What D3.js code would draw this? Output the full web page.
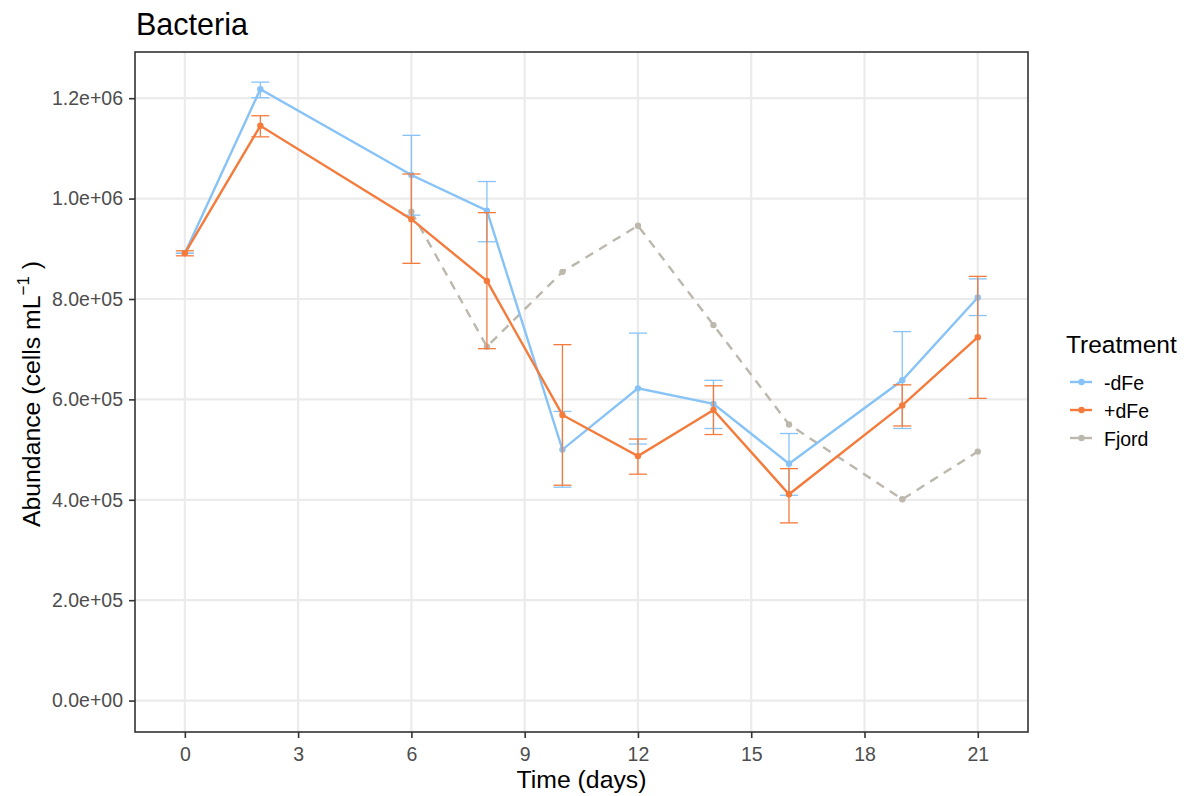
<!DOCTYPE html>
<html>
<head>
<meta charset="utf-8">
<script src="https://cdn.jsdelivr.net/npm/d3@7"></script>
<style>
  body { margin: 0; background: #fff; }
  svg { font-family: "Liberation Sans", Arial, sans-serif; }
</style>
</head>
<body>
<svg id="chart" width="1188" height="796"></svg>
<script>
// data
const days = [0, 2, 6, 8, 10, 12, 14, 16, 19, 21];
const fjordDays = [6, 8, 10, 12, 14, 16, 19, 21];

const minusMean = [891000, 1218000, 1047000, 976000, 500000, 622000, 591000, 472000, 638000, 803000];
const minusLo   = [891000, 1201000, 967000, 914000, 425000, 511000, 542000, 409000, 542000, 767000];
const minusHi   = [891000, 1232000, 1126000, 1034000, 576000, 732000, 638000, 532000, 735000, 840000];

const plusMean = [891000, 1145000, 959000, 836000, 569000, 487000, 579000, 411000, 588000, 724000];
const plusLo   = [886000, 1123000, 871000, 701000, 429000, 451000, 530000, 354000, 547000, 602000];
const plusHi   = [896000, 1165000, 1049000, 972000, 709000, 521000, 627000, 462000, 629000, 845000];

const fjordMean = [974000, 705000, 854000, 946000, 748000, 550000, 401000, 496000];

const xTicks = [0, 3, 6, 9, 12, 15, 18, 21];
const yTicks = [0, 200000, 400000, 600000, 800000, 1000000, 1200000];

const treatments = ["-dFe", "+dFe", "Fjord"];
const colors = ["#87c3f7", "#f47b3b", "#bdb8ad"];

const svg = d3.select("#chart");

// panel box
const pLeft = 135, pRight = 1028, pTop = 52, pBottom = 732;

const x = d3.scaleLinear().domain([-1.32, 22.33]).range([pLeft, pRight]);
const y = d3.scaleLinear().domain([-62600, 1292000]).range([pBottom, pTop]);

// grid
const grid = svg.append("g");
grid.selectAll(".gx").data(xTicks).join("line")
    .attr("x1", d => x(d)).attr("x2", d => x(d))
    .attr("y1", pTop).attr("y2", pBottom)
    .attr("stroke", "#ebebeb").attr("stroke-width", 2.2);
grid.selectAll(".gy").data(yTicks).join("line")
    .attr("x1", pLeft).attr("x2", pRight)
    .attr("y1", d => y(d)).attr("y2", d => y(d))
    .attr("stroke", "#ebebeb").attr("stroke-width", 2.2);

// series
function series(xs, mean, lo, hi, color, dashed) {
    const pts = xs.map((d, i) => ({ x: d, m: mean[i], lo: lo ? lo[i] : null, hi: hi ? hi[i] : null }));
    const g = svg.append("g");
    if (lo) {
        const eb = g.selectAll(".eb").data(pts).join("g").attr("stroke", color).attr("stroke-width", 1.3);
        eb.append("line").attr("x1", d => x(d.x)).attr("x2", d => x(d.x))
            .attr("y1", d => y(d.lo)).attr("y2", d => y(d.hi));
        eb.append("line").attr("x1", d => x(d.x) - 9).attr("x2", d => x(d.x) + 9)
            .attr("y1", d => y(d.lo)).attr("y2", d => y(d.lo));
        eb.append("line").attr("x1", d => x(d.x) - 9).attr("x2", d => x(d.x) + 9)
            .attr("y1", d => y(d.hi)).attr("y2", d => y(d.hi));
    }
    const line = d3.line().x(d => x(d.x)).y(d => y(d.m));
    g.append("path").datum(pts).attr("d", line)
        .attr("fill", "none").attr("stroke", color).attr("stroke-width", 2.4)
        .attr("stroke-dasharray", dashed ? "9,7" : null);
    g.selectAll("circle").data(pts).join("circle")
        .attr("cx", d => x(d.x)).attr("cy", d => y(d.m)).attr("r", 3.2)
        .attr("fill", color);
}

series(fjordDays, fjordMean, null, null, colors[2], true);
series(days, minusMean, minusLo, minusHi, colors[0], false);
series(days, plusMean, plusLo, plusHi, colors[1], false);

// panel border
svg.append("rect")
    .attr("x", pLeft).attr("y", pTop)
    .attr("width", pRight - pLeft).attr("height", pBottom - pTop)
    .attr("fill", "none").attr("stroke", "#333").attr("stroke-width", 1.6);

// axes
const fmt = d => d === 0 ? "0.0e+00" : d3.format(".1e")(d).replace(/e\+(\d)$/, "e+0$1");
const yAxis = svg.append("g").attr("transform", `translate(${pLeft},0)`)
    .call(d3.axisLeft(y).tickValues(yTicks).tickFormat(fmt).tickSize(6).tickPadding(6));
const xAxis = svg.append("g").attr("transform", `translate(0,${pBottom})`)
    .call(d3.axisBottom(x).tickValues(xTicks).tickSize(6).tickPadding(9));
[xAxis, yAxis].forEach(a => {
    a.select(".domain").remove();
    a.selectAll(".tick line").attr("stroke", "#333").attr("stroke-width", 1.6);
    a.selectAll(".tick text").attr("fill", "#4d4d4d").style("font-size", "19.5px")
        .style("font-family", "'Liberation Sans', Arial, sans-serif");
});

// titles
svg.append("text").attr("x", 136).attr("y", 35)
    .style("font-size", "30.5px").attr("fill", "#000").text("Bacteria");

svg.append("text").attr("x", (pLeft + pRight) / 2).attr("y", 788)
    .attr("text-anchor", "middle").style("font-size", "24.8px").text("Time (days)");

const yt = svg.append("text")
    .attr("transform", `translate(40,${(pTop + pBottom) / 2 + 2}) rotate(-90)`)
    .attr("text-anchor", "middle").style("font-size", "24.8px");
yt.append("tspan").text("Abundance (cells mL");
yt.append("tspan").attr("dy", -11).style("font-size", "17px").text("\u22121");
yt.append("tspan").attr("dy", 11).text(" )");

// legend
const lg = svg.append("g").attr("transform", "translate(1066,0)");
lg.append("text").attr("x", 0).attr("y", 353).style("font-size", "24.5px").text("Treatment");
const items = lg.selectAll(".item").data(treatments).join("g")
    .attr("transform", (d, i) => `translate(0,${382 + i * 28})`);
items.append("line").attr("x1", 4).attr("x2", 26).attr("y1", 0).attr("y2", 0)
    .attr("stroke", (d, i) => colors[i]).attr("stroke-width", 2.4);
items.append("circle").attr("cx", 15.5).attr("cy", 0).attr("r", 3.2)
    .attr("fill", (d, i) => colors[i]);
items.append("text").attr("x", 38).attr("y", 7.5).style("font-size", "19.5px")
    .attr("fill", "#000").text(d => d);
</script>
</body>
</html>
